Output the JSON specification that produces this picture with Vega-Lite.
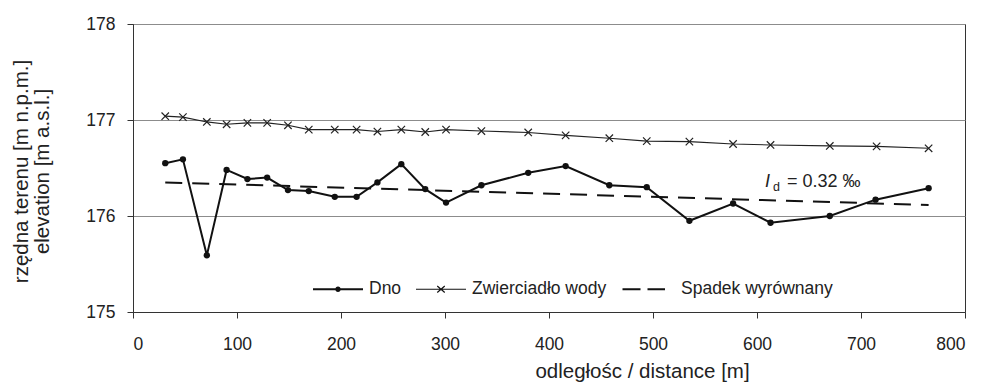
{
  "$schema": "https://vega.github.io/schema/vega-lite/v6.json",
  "autosize": {"type": "none"},
  "padding": {"left": 133, "top": 24, "right": 19, "bottom": 71},
  "width": 832,
  "height": 288,
  "background": "white",
  "config": {
    "font": "Liberation Sans",
    "view": {"stroke": "#333333", "strokeWidth": 1},
    "axis": {
      "labelFont": "Liberation Sans",
      "titleFont": "Liberation Sans",
      "labelColor": "#222222",
      "titleColor": "#222222",
      "titleFontWeight": "normal",
      "labelFontSize": 17.5,
      "titleFontSize": 20.5,
      "domainColor": "#333333",
      "tickColor": "#333333",
      "tickSize": 6,
      "gridColor": "#8c8c8c",
      "gridWidth": 1,
      "gridOpacity": 1
    }
  },
  "datasets": {
    "obs": [
      {"series": "Dno", "d": 31, "v": 176.55},
      {"series": "Dno", "d": 48, "v": 176.59},
      {"series": "Dno", "d": 71, "v": 175.59},
      {"series": "Dno", "d": 90, "v": 176.48},
      {"series": "Dno", "d": 110, "v": 176.385},
      {"series": "Dno", "d": 129, "v": 176.4},
      {"series": "Dno", "d": 149, "v": 176.27},
      {"series": "Dno", "d": 169, "v": 176.26},
      {"series": "Dno", "d": 194, "v": 176.2},
      {"series": "Dno", "d": 215, "v": 176.2},
      {"series": "Dno", "d": 235, "v": 176.35},
      {"series": "Dno", "d": 258, "v": 176.54},
      {"series": "Dno", "d": 281, "v": 176.28},
      {"series": "Dno", "d": 301, "v": 176.14},
      {"series": "Dno", "d": 335, "v": 176.32},
      {"series": "Dno", "d": 380, "v": 176.45},
      {"series": "Dno", "d": 416, "v": 176.52},
      {"series": "Dno", "d": 458, "v": 176.32},
      {"series": "Dno", "d": 494, "v": 176.3},
      {"series": "Dno", "d": 535, "v": 175.95},
      {"series": "Dno", "d": 577, "v": 176.13},
      {"series": "Dno", "d": 613, "v": 175.93},
      {"series": "Dno", "d": 670, "v": 176.0},
      {"series": "Dno", "d": 714, "v": 176.17},
      {"series": "Dno", "d": 765, "v": 176.29},
      {"series": "Zwierciadło wody", "d": 31, "v": 177.04},
      {"series": "Zwierciadło wody", "d": 48, "v": 177.03},
      {"series": "Zwierciadło wody", "d": 71, "v": 176.98},
      {"series": "Zwierciadło wody", "d": 90, "v": 176.955},
      {"series": "Zwierciadło wody", "d": 110, "v": 176.97},
      {"series": "Zwierciadło wody", "d": 129, "v": 176.97},
      {"series": "Zwierciadło wody", "d": 149, "v": 176.945},
      {"series": "Zwierciadło wody", "d": 169, "v": 176.9},
      {"series": "Zwierciadło wody", "d": 194, "v": 176.9},
      {"series": "Zwierciadło wody", "d": 215, "v": 176.9},
      {"series": "Zwierciadło wody", "d": 235, "v": 176.88},
      {"series": "Zwierciadło wody", "d": 258, "v": 176.9},
      {"series": "Zwierciadło wody", "d": 281, "v": 176.875},
      {"series": "Zwierciadło wody", "d": 301, "v": 176.9},
      {"series": "Zwierciadło wody", "d": 335, "v": 176.885},
      {"series": "Zwierciadło wody", "d": 380, "v": 176.87},
      {"series": "Zwierciadło wody", "d": 416, "v": 176.84},
      {"series": "Zwierciadło wody", "d": 458, "v": 176.81},
      {"series": "Zwierciadło wody", "d": 494, "v": 176.78},
      {"series": "Zwierciadło wody", "d": 535, "v": 176.775},
      {"series": "Zwierciadło wody", "d": 577, "v": 176.75},
      {"series": "Zwierciadło wody", "d": 613, "v": 176.74},
      {"series": "Zwierciadło wody", "d": 670, "v": 176.73},
      {"series": "Zwierciadło wody", "d": 715, "v": 176.725},
      {"series": "Zwierciadło wody", "d": 765, "v": 176.705},
      {"series": "Spadek wyrównany", "d": 31, "v": 176.35},
      {"series": "Spadek wyrównany", "d": 765, "v": 176.115}
    ],
    "ann": [
      {"part": "I", "d": 607.7, "v": 176.302, "label": "I"},
      {"part": "sub", "d": 615.4, "v": 176.26, "label": "d"},
      {"part": "rest", "d": 628.8, "v": 176.302, "label": "= 0.32 ‰"}
    ]
  },
  "encoding": {
    "x": {
      "field": "d", "type": "quantitative",
      "scale": {"domain": [0, 800], "nice": false, "zero": false},
      "axis": {
        "title": "odległośc / distance [m]",
        "values": [0, 100, 200, 300, 400, 500, 600, 700, 800],
        "grid": false,
        "labelPadding": 17,
        "titleX": 509,
        "titleY": 65,
        "titleAlign": "center",
        "titleBaseline": "alphabetic"
      }
    },
    "y": {
      "field": "v", "type": "quantitative",
      "scale": {"domain": [175, 178], "nice": false, "zero": false},
      "axis": {
        "title": ["rzędna terenu [m n.p.m.]", "elevation [m a.s.l.]"],
        "values": [175, 176, 177, 178],
        "grid": true,
        "labelPadding": 12,
        "titleAngle": -90,
        "titleX": -111.5,
        "titleY": 147,
        "titleAlign": "center",
        "titleBaseline": "middle",
        "titleLineHeight": 21
      }
    }
  },
  "layer": [
    {
      "data": {"name": "obs"},
      "transform": [{"filter": "datum.series === 'Spadek wyrównany'"}],
      "mark": {"type": "line", "color": "#111111", "strokeWidth": 2, "strokeDash": [17, 10]}
    },
    {
      "data": {"name": "obs"},
      "transform": [{"filter": "datum.series === 'Zwierciadło wody'"}],
      "mark": {"type": "line", "color": "#222222", "strokeWidth": 1.1}
    },
    {
      "data": {"name": "obs"},
      "transform": [{"filter": "datum.series === 'Zwierciadło wody'"}],
      "mark": {"type": "point", "shape": "M-1,-1L1,1M-1,1L1,-1", "size": 55, "filled": false, "stroke": "#222222", "strokeWidth": 1.2, "opacity": 1}
    },
    {
      "data": {"name": "obs"},
      "transform": [{"filter": "datum.series === 'Dno'"}],
      "mark": {"type": "line", "color": "#111111", "strokeWidth": 2}
    },
    {
      "data": {"name": "obs"},
      "transform": [{"filter": "datum.series === 'Dno'"}],
      "mark": {"type": "point", "shape": "circle", "size": 40, "filled": true, "color": "#111111", "opacity": 1}
    },
    {
      "data": {"name": "obs"},
      "transform": [{"filter": "datum.d < 0"}],
      "mark": {"type": "point", "filled": false, "color": "#111111", "opacity": 1},
      "encoding": {
        "strokeWidth": {
          "field": "series", "type": "nominal",
          "scale": {
            "type": "ordinal",
            "domain": ["Dno", "Zwierciadło wody", "Spadek wyrównany"],
            "range": [2, 1.2, 2]
          }
        },
        "shape": {
          "field": "series", "type": "nominal",
          "scale": {
            "domain": ["Dno", "Zwierciadło wody", "Spadek wyrównany"],
            "range": [
              "M-1,0H1M0.07,0A0.07,0.07 0 1,1 -0.07,0A0.07,0.07 0 1,1 0.07,0Z",
              "M-1,0H1M-0.15,-0.13L0.15,0.13M-0.15,0.13L0.15,-0.13",
              "M-1.1,0H-0.38M-0.1,0H0.6"
            ]
          },
          "legend": {
            "title": null,
            "orient": "none",
            "legendX": 179,
            "legendY": 239,
            "direction": "horizontal",
            "symbolSize": 2500,
            "symbolStrokeColor": "#111111",
            "symbolFillColor": "transparent",
            "symbolOpacity": 1,
            "labelFont": "Liberation Sans",
            "labelFontSize": 17.5,
            "labelColor": "#222222",
            "labelOffset": 5,
            "labelLimit": 0,
            "columnPadding": 11,
            "padding": 0
          }
        }
      }
    },
    {
      "data": {"name": "ann"},
      "transform": [{"filter": "datum.part === 'I'"}],
      "mark": {"type": "text", "align": "left", "baseline": "alphabetic", "fontSize": 18, "fontStyle": "italic", "font": "Liberation Sans", "color": "#222222"},
      "encoding": {"text": {"field": "label"}}
    },
    {
      "data": {"name": "ann"},
      "transform": [{"filter": "datum.part === 'sub'"}],
      "mark": {"type": "text", "align": "left", "baseline": "alphabetic", "fontSize": 12.5, "font": "Liberation Sans", "color": "#222222"},
      "encoding": {"text": {"field": "label"}}
    },
    {
      "data": {"name": "ann"},
      "transform": [{"filter": "datum.part === 'rest'"}],
      "mark": {"type": "text", "align": "left", "baseline": "alphabetic", "fontSize": 18, "font": "Liberation Sans", "color": "#222222"},
      "encoding": {"text": {"field": "label"}}
    }
  ]
}
